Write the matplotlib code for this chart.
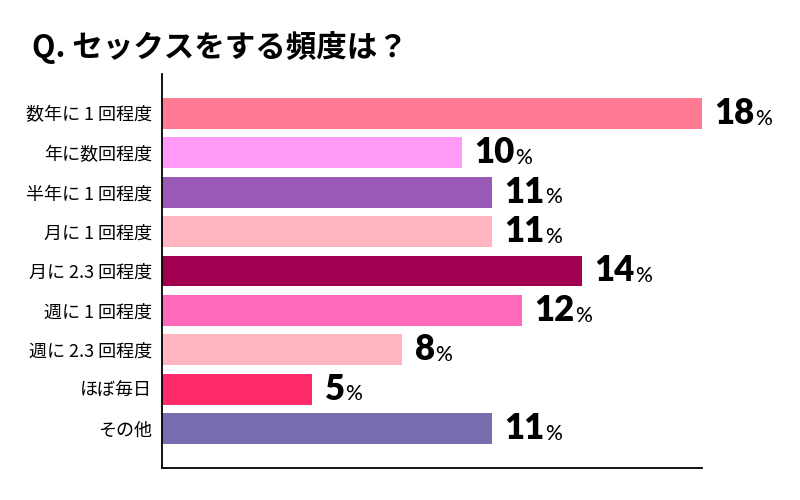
import matplotlib
matplotlib.use('Agg')
import matplotlib.pyplot as plt

plt.rcParams['font.family'] = ['Noto Sans CJK JP', 'DejaVu Sans']

categories = ['数年に 1 回程度', '年に数回程度', '半年に 1 回程度', '月に 1 回程度',
              '月に 2.3 回程度', '週に 1 回程度', '週に 2.3 回程度', 'ほぼ毎日', 'その他']
values = [18, 10, 11, 11, 14, 12, 8, 5, 11]
colors = ['#FF7A93', '#FF9AF6', '#9B59B6', '#FFB5C0', '#A0004F',
          '#FF69B9', '#FFB6C1', '#FF2A6A', '#786DAF']

fig = plt.figure(figsize=(8, 5), dpi=100)
ax = fig.add_axes([0.2025, 0.064, 0.675, 0.788])

ypos = list(range(len(categories)))
ax.barh(ypos, values, height=0.78, color=colors)
ax.set_xlim(0, 18)
ax.set_ylim(9, -1)

ax.set_yticks(ypos)
ax.set_yticklabels(categories, fontsize=13)
ax.tick_params(axis='y', length=0, pad=7)
ax.set_xticks([])
for s in ['top', 'right']:
    ax.spines[s].set_visible(False)
ax.spines['left'].set_linewidth(1.3)
ax.spines['bottom'].set_linewidth(1.3)

for y, v in zip(ypos, values):
    t = ax.annotate(str(v), xy=(v, y), xytext=(9, 0), textcoords='offset points',
                    va='center', ha='left', fontsize=25, fontweight='heavy',
                    family=['Lato', 'DejaVu Sans'])
    ax.annotate('%', xy=(1, 0), xycoords=t, xytext=(0, 1), textcoords='offset points',
                va='bottom', ha='left', fontsize=15, fontweight='medium',
                family=['Lato', 'DejaVu Sans'])

fig.text(0.04, 0.905, 'Q. セックスをする頻度は？', fontsize=22, fontweight='bold',
         va='center', ha='left')

fig.savefig('out.png', dpi=100)
